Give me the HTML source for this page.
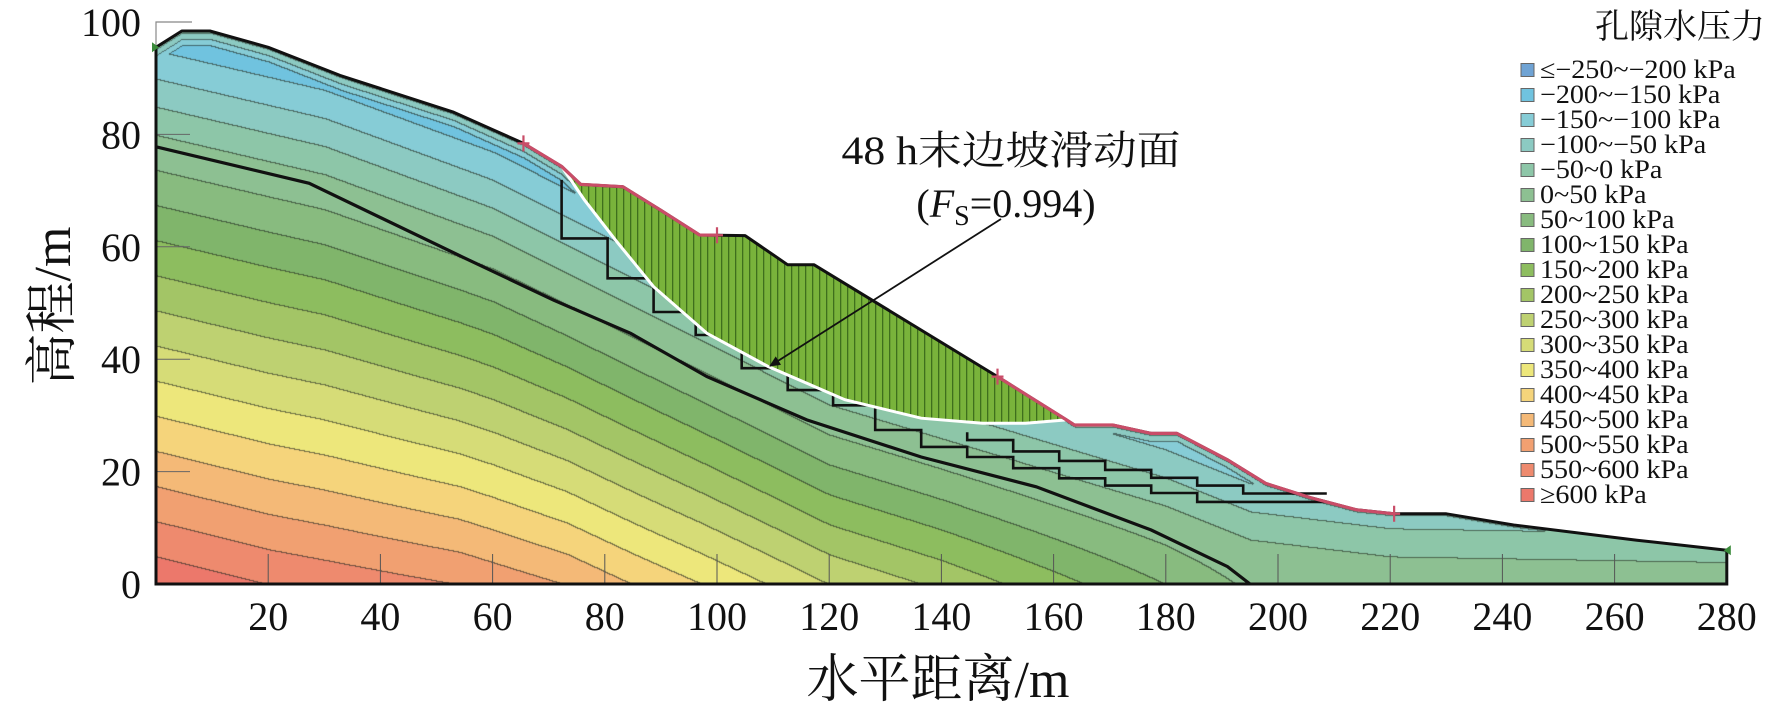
<!DOCTYPE html>
<html><head><meta charset="utf-8">
<style>
html,body{margin:0;padding:0;background:#fff;}
#wrap{position:relative;width:1772px;height:718px;overflow:hidden;background:#fff;}
canvas,svg{position:absolute;left:0;top:0;}
text{font-family:"Liberation Serif","Noto Serif CJK SC",serif;fill:#111;}
</style></head>
<body>
<div id="wrap">
<canvas id="field" width="1772" height="718"></canvas>
<svg id="ov" width="1772" height="718" viewBox="0 0 1772 718">
<defs>
<pattern id="hatch" patternUnits="userSpaceOnUse" width="7" height="10">
<rect width="7" height="10" fill="#79b33b"/>
<rect x="0" width="1.3" height="10" fill="#3e6f1d"/>
</pattern>
<marker id="arr" markerWidth="12" markerHeight="12" refX="10" refY="5" orient="auto" markerUnits="userSpaceOnUse">
<path d="M0,0 L11,5 L0,10 Z" fill="#111"/>
</marker>
</defs>
</svg>
</div>
<script>
// ---- data ----
const surfX = [0,4.6,9.6,20,32.8,52.9,65.5,72.3,75.7,83.2,90,96.9,105,112.6,117.3,150,162.3,163.7,170.5,177.4,182,191,197.8,206,214,220.7,230,242,264,280];
const surfY = [95.5,98.4,98.4,95.5,90.5,84,78.4,74.3,71.1,70.7,66.5,62.1,62,56.8,56.8,36.9,29.2,28.3,28.3,26.8,26.8,22.1,17.9,15.3,13.2,12.5,12.5,10.5,7.8,6];
const layerX = [0,27.3,54.6,70.9,84.6,98.2,116,136.4,156.9,177.4,191,195];
const layerY = [77.8,71.3,58.2,50.5,44.6,36.9,29.2,22.6,17.3,9.6,3.1,0];
const slipX = [72.3,76.4,81.9,88.7,98.2,109.1,122.8,136.4,147.3,155,162.3];
const slipY = [74.3,68.3,61.2,52.9,44.6,38.7,32.8,29.5,28.6,28.6,29.2];
const stairABreaks = [72.3,80.5,88.7,96.2,104.4,112.6,120.7,128.2,136.4,144.6,152.8,161,169.2,177.4,185.6,208.7];
const stairALevels = [61.5,54.4,48.4,44.3,38.4,34.5,31.8,27.4,24.4,22.6,20.6,18.8,17.5,16.2,14.6];
const stairBBreaks = [144.6,152.8,161,169.2,177.4,185.6,193.8,208.7];
const stairBLevels = [25.6,23.6,21.9,20.3,18.9,17.5,16.1];
const baseX = [0,20,54,73,85,97.5,109,120,140,160,180,195,215,280];
const baseP = [640,600,550,500,450,400,350,300,240,170,100,40,15,10];
const zeroX = [0,30,60,80,100,120,140,160,180,195,220,280];
const zeroZ = [80,73,62,52,42,32,26,20,14,8,5,4];
const pinkRanges = [[65.5,100],[150,220.7]];
const crossX = [65.5,100,150,220.7];
const xTicks = [20,40,60,80,100,120,140,160,180,200,220,240,260,280];
const yTicks = [0,20,40,60,80,100];
const legendLabels = ["≤−250~−200 kPa","−200~−150 kPa","−150~−100 kPa","−100~−50 kPa","−50~0 kPa","0~50 kPa","50~100 kPa","100~150 kPa","150~200 kPa","200~250 kPa","250~300 kPa","300~350 kPa","350~400 kPa","400~450 kPa","450~500 kPa","500~550 kPa","550~600 kPa","≥600 kPa"];
const legendColors = ["#6fa3d4","#70c3df","#86ccd6","#8ccac2","#8dc6a8","#8dc092","#88bb7f","#80b56b","#8dbd5f","#a3c566","#bed171","#d6dc77","#ede77b","#f5d47b","#f4b977","#f1a071","#ee8a6e","#ec786b"];

// ---- axes ----
const X = x => 156 + 5.61 * x;
const Y = y => 584 - 5.62 * y;
function interp(xs, ys, x){
  if (x <= xs[0]) return ys[0];
  for (let i = 1; i < xs.length; i++) if (x <= xs[i]) { const t = (x - xs[i-1]) / (xs[i] - xs[i-1]); return ys[i-1] + t * (ys[i] - ys[i-1]); }
  return ys[ys.length-1];
}
function hex(c){return [parseInt(c.substr(1,2),16),parseInt(c.substr(3,2),16),parseInt(c.substr(5,2),16)];}
const rgb = legendColors.map(hex);

// ---- field ----
(function(){
  const cv = document.getElementById('field'), ctx = cv.getContext('2d');
  const W = 1772, H = 718;
  const img = ctx.createImageData(W, H);
  const band = new Int8Array(W * H).fill(-1);
  for (let px = Math.ceil(X(0)); px <= Math.floor(X(280)); px++) {
    const x = (px - 156) / 5.61;
    const ys = interp(surfX, surfY, x);
    const pb = interp(baseX, baseP, x), z0 = interp(zeroX, zeroZ, x);
    const top = Math.ceil(Y(ys));
    for (let py = top; py <= 584; py++) {
      const y = (584 - py) / 5.62;
      let p = y < z0 ? pb * (z0 - y) / z0 : -10 * (y - z0);
      const d = ys - y;
      p = Math.max(p, -40 - 45 * d);
      let b = Math.floor((p + 250) / 50); b = Math.max(0, Math.min(17, b));
      band[py * W + px] = b;
    }
  }
  for (let py = 0; py < H; py++) for (let px = 0; px < W; px++) {
    const i = py * W + px, b = band[i];
    if (b < 0) continue;
    let c = rgb[b];
    const l = px > 0 ? band[i-1] : b, u = py > 0 ? band[i-W] : b;
    let k = 4 * i;
    if ((l >= 0 && l !== b) || (u >= 0 && u !== b)) { img.data[k]=c[0]*0.4+20; img.data[k+1]=c[1]*0.4+25; img.data[k+2]=c[2]*0.4+20; }
    else { img.data[k]=c[0]; img.data[k+1]=c[1]; img.data[k+2]=c[2]; }
    img.data[k+3] = 255;
  }
  ctx.putImageData(img, 0, 0);
})();

// ---- overlay ----
const svg = document.getElementById('ov'), NS = 'http://www.w3.org/2000/svg';
function mk(tag, attrs, parent){ const e = document.createElementNS(NS, tag); for (const k in attrs) e.setAttribute(k, attrs[k]); (parent||svg).appendChild(e); return e; }
const pts = (xs, ys) => xs.map((x,i) => X(x).toFixed(1) + ',' + Y(ys[i]).toFixed(1)).join(' ');
function stairPts(br, lv){ const a = [[br[0], interp(slipX, slipY, br[0]) - 2.4]]; if (br === stairBBreaks) a[0] = [br[0], lv[0] + 1.4]; for (let i = 0; i < lv.length; i++){ a.push([br[i], lv[i]]); a.push([br[i+1], lv[i]]); } return a.map(p => X(p[0]).toFixed(1)+','+Y(p[1]).toFixed(1)).join(' '); }

for (const t of xTicks) { if (t === 280) continue;
  const e = mk('line', {x1:X(t), x2:X(t), y1:584, y2:554, stroke:'#555', 'stroke-width':1});
  
  
}
for (const t of yTicks) { if (t === 0 || t === 100) continue;
  const e = mk('line', {x1:156, x2:190, y1:Y(t), y2:Y(t), stroke:'#666', 'stroke-width':1});
  
  
}
let br = mk('polyline', {points: X(0)+','+Y(95.5)+' '+X(0)+','+Y(100)+' '+(X(0)+36)+','+Y(100), fill:'none', stroke:'#888', 'stroke-width':1.2});



let sa = mk('polyline', {points: stairPts(stairABreaks, stairALevels), fill:'none', stroke:'#111', 'stroke-width':2.6});


let sb = mk('polyline', {points: stairPts(stairBBreaks, stairBLevels), fill:'none', stroke:'#111', 'stroke-width':2.6});



let ll = mk('polyline', {points: pts(layerX, layerY), fill:'none', stroke:'#111', 'stroke-width':3.2});



(function(){
  const top = [];
  const x0 = slipX[0], x1 = slipX[slipX.length-1];
  top.push([x0, interp(surfX, surfY, x0)]);
  surfX.forEach((x,i) => { if (x > x0 && x < x1) top.push([x, surfY[i]]); });
  top.push([x1, interp(surfX, surfY, x1)]);
  const bot = slipX.map((x,i) => [x, slipY[i]]).reverse();
  const p = top.concat(bot).map(q => X(q[0]).toFixed(1)+','+Y(q[1]).toFixed(1)).join(' ');
  const e = mk('polygon', {points: p, fill:'url(#hatch)', stroke:'none'});
  
  
})();
let sc = mk('polyline', {points: pts(slipX, slipY), fill:'none', stroke:'#fff', 'stroke-width':3});



let outline = mk('polyline', {points: X(280)+','+Y(surfY[surfY.length-1])+' '+X(280)+','+Y(0)+' '+X(0)+','+Y(0)+' '+X(0)+','+Y(surfY[0]), fill:'none', stroke:'#111', 'stroke-width':3});


let gs = mk('polyline', {points: pts(surfX, surfY), fill:'none', stroke:'#111', 'stroke-width':3, 'stroke-linejoin':'round'});


for (const r of pinkRanges) {
  const xs = [r[0]].concat(surfX.filter(x => x > r[0] && x < r[1])).concat([r[1]]);
  const ys = xs.map(x => interp(surfX, surfY, x));
  const e = mk('polyline', {points: pts(xs, ys), fill:'none', stroke:'#c94d68', 'stroke-width':3.2, 'stroke-linejoin':'round'});
  
  
}
for (const cx of crossX) {
  const cy = Y(interp(surfX, surfY, cx)), px = X(cx);
  const e = mk('path', {d:`M${px-6},${cy}H${px+6}M${px},${cy-8}V${cy+8}`, stroke:'#c94d68', 'stroke-width':2.2});
  
  
}
let gm1 = mk('path', {d:`M${X(0)-4},${Y(95.5)-5} L${X(0)+3},${Y(95.5)} L${X(0)-4},${Y(95.5)+5}Z`, fill:'#3a8a3a'});


let gm2 = mk('path', {d:`M${X(280)+4},${Y(6)-5} L${X(280)-3},${Y(6)} L${X(280)+4},${Y(6)+5}Z`, fill:'#3a8a3a'});



for (const t of xTicks) {
  const e = mk('text', {x:X(t), y:630, 'font-size':40, 'text-anchor':'middle'}); e.textContent = t;
  
  
}
for (const t of yTicks) {
  const e = mk('text', {x:141, y:Y(t)+14, 'font-size':40, 'text-anchor':'end'}); e.textContent = t;
  
  
}
let xt = mk('text', {x:938, y:697, 'font-size':52, 'text-anchor':'middle'}); xt.textContent = '水平距离/m';


let yt = mk('text', {x:0, y:0, 'font-size':52, 'text-anchor':'middle', transform:'translate(70,306) rotate(-90)'}); yt.textContent = '高程/m';



let a1 = mk('text', {x:1011, y:164, 'font-size':40, 'text-anchor':'middle', textLength:339, lengthAdjust:'spacingAndGlyphs'}); a1.textContent = '48 h末边坡滑动面';


let a2 = mk('text', {x:1006, y:217, 'font-size':40, 'text-anchor':'middle'});
a2.innerHTML = '(<tspan font-style="italic">F</tspan><tspan font-size="28" dy="8">S</tspan><tspan dy="-8">=0.994)</tspan>';


let ar = mk('line', {x1:1001, y1:219, x2:770, y2:366, stroke:'#111', 'stroke-width':1.8, 'marker-end':'url(#arr)'});



let lt = mk('text', {x:1680, y:38, 'font-size':34, 'text-anchor':'middle'}); lt.textContent = '孔隙水压力';


legendLabels.forEach((lab, i) => {
  const cy = 70 + i * 25;
  const g = mk('g', {});
  
  
  mk('rect', {x:1521, y:cy-6.5, width:13, height:13, fill:legendColors[i], stroke:'#666', 'stroke-width':1}, g);
  const t = mk('text', {x:1540, y:cy+8, 'font-size':26}, g); t.textContent = lab;
  const w = t.getComputedTextLength();
  if (w > 0) { t.setAttribute('textLength', (w * 1.08).toFixed(1)); t.setAttribute('lengthAdjust', 'spacingAndGlyphs'); }
});
</script>
</body></html>
